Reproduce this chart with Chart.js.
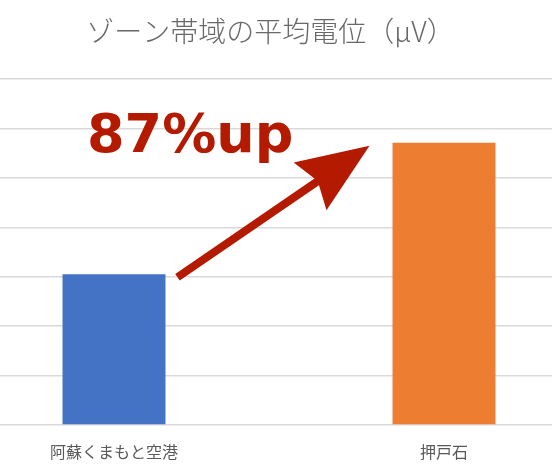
<!DOCTYPE html>
<html>
<head>
<meta charset="utf-8">
<script src="https://cdn.jsdelivr.net/npm/chart.js@4"></script>
<style>
  html, body { margin: 0; padding: 0; background: #fff; overflow: hidden; }
  #wrap { position: absolute; left: -68px; top: 0; width: 677px; height: 473px; }
</style>
</head>
<body>
<div id="wrap"><canvas id="grafico"></canvas></div>
<script>
// dados do gráfico
const titulo = 'ゾーン帯域の平均電位（μV）';
const locais = ['阿蘇くまもと空港', '押戸石'];
const potencial = [3.05, 5.71];
const cores = ['#4472c4', '#ed7d31'];

// porcentagem de aumento, calculada a partir dos valores
const aumento = Math.round((potencial[1] / potencial[0] - 1) * 100);
const textoAumento = aumento + '%up';

const vermelho = '#b41a00';

// desenha o texto "87%up" e a seta por cima das barras
const setaPlugin = {
  id: 'seta',
  afterDatasetsDraw(chart) {
    const barras = chart.getDatasetMeta(0).data;
    const a = barras[0], b = barras[1];
    const ctx = chart.ctx;
    ctx.save();

    // texto
    ctx.fillStyle = vermelho;
    ctx.font = 'bold 54px "DejaVu Sans"';
    ctx.textBaseline = 'alphabetic';
    ctx.textAlign = 'left';
    ctx.fillText(textoAumento, a.x - 27, b.y + 9);

    // seta
    const x0 = a.x + a.width / 2 + 12, y0 = a.y + 3;
    const x1 = b.x - b.width / 2 - 23, y1 = b.y + 3;
    const dx = x1 - x0, dy = y1 - y0;
    const len = Math.sqrt(dx * dx + dy * dy);
    const ux = dx / len, uy = dy / len;
    const px = -uy, py = ux;
    const meia = 4, cabeca = 72, aba = 29, entalhe = 64;
    const pt = (t, s) => [x0 + ux * t + px * s, y0 + uy * t + py * s];
    const pontos = [
      pt(0, meia), pt(len - entalhe, meia), pt(len - cabeca, aba), pt(len, 0),
      pt(len - cabeca, -aba), pt(len - entalhe, -meia), pt(0, -meia)
    ];
    ctx.beginPath();
    ctx.moveTo(pontos[0][0], pontos[0][1]);
    for (let i = 1; i < pontos.length; i++) ctx.lineTo(pontos[i][0], pontos[i][1]);
    ctx.closePath();
    ctx.fill();
    ctx.restore();
  }
};

new Chart(document.querySelector('#grafico').getContext('2d'), {
  type: 'bar',
  data: {
    labels: locais,
    datasets: [{
      data: potencial,
      backgroundColor: cores,
      categoryPercentage: 1,
      barPercentage: 0.312
    }]
  },
  options: {
    responsive: true,
    maintainAspectRatio: false,
    animation: false,
    layout: { padding: { top: 0, bottom: 11, left: 0, right: 0 } },
    plugins: {
      legend: { display: false },
      tooltip: { enabled: false },
      title: {
        display: true,
        text: titulo,
        color: '#686868',
        font: { family: '"Noto Sans CJK JP"', size: 28, weight: '300' },
        padding: { top: 15, bottom: 30.4 }
      }
    },
    scales: {
      x: {
        afterFit(scale) { scale.height = 37; },
        grid: { display: false },
        border: { display: false },
        ticks: {
          color: '#595959',
          padding: 9,
          font: { family: '"Noto Sans CJK JP"', size: 16 }
        }
      },
      y: {
        min: 0,
        max: 7,
        afterFit(scale) { scale.width = 17; },
        ticks: { display: false, stepSize: 1 },
        border: { display: false },
        grid: { color: '#d9d9d9', lineWidth: 1.5, drawTicks: false }
      }
    }
  },
  plugins: [setaPlugin]
});
</script>
</body>
</html>
